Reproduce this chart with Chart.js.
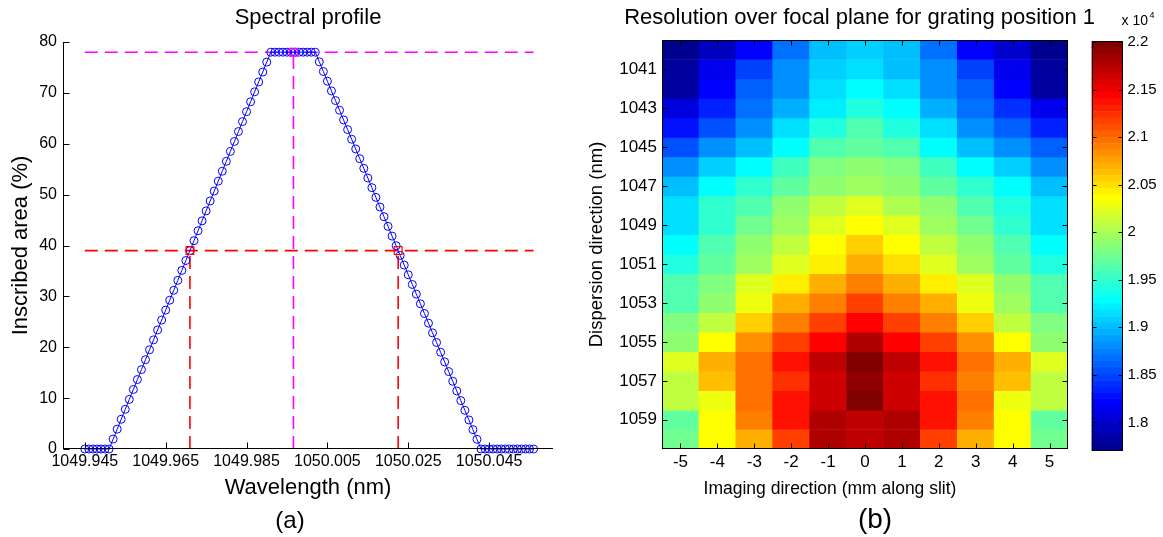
<!DOCTYPE html>
<html>
<head>
<meta charset="utf-8">
<script src="https://cdn.jsdelivr.net/npm/chart.js@4.4.1/dist/chart.umd.min.js"></script>
<style>
  html, body { margin: 0; padding: 0; background: #fff; }
  #wrap { position: relative; width: 1163px; height: 537px; overflow: hidden; background: #fff; }
  #wrap canvas { position: absolute; top: 0; }
</style>
</head>
<body>
<div id="wrap">
  <canvas id="profile" width="580" height="537" style="left:0px"></canvas>
  <canvas id="heat" width="540" height="537" style="left:560px"></canvas>
  <canvas id="cbar" width="590" height="537" style="left:580px"></canvas>
</div>
<script>
// ---------------- Panel (a): spectral profile ----------------
const wavelengths = [
  1049.945,1049.946,1049.947,1049.948,1049.949,1049.950,1049.951,1049.952,1049.953,1049.954,
  1049.955,1049.956,1049.957,1049.958,1049.959,1049.960,1049.961,1049.962,1049.963,1049.964,
  1049.965,1049.966,1049.967,1049.968,1049.969,1049.970,1049.971,1049.972,1049.973,1049.974,
  1049.975,1049.976,1049.977,1049.978,1049.979,1049.980,1049.981,1049.982,1049.983,1049.984,
  1049.985,1049.986,1049.987,1049.988,1049.989,1049.990,1049.991,1049.992,1049.993,1049.994,
  1049.995,1049.996,1049.997,1049.998,1049.999,1050.000,1050.001,1050.002,1050.003,1050.004,
  1050.005,1050.006,1050.007,1050.008,1050.009,1050.010,1050.011,1050.012,1050.013,1050.014,
  1050.015,1050.016,1050.017,1050.018,1050.019,1050.020,1050.021,1050.022,1050.023,1050.024,
  1050.025,1050.026,1050.027,1050.028,1050.029,1050.030,1050.031,1050.032,1050.033,1050.034,
  1050.035,1050.036,1050.037,1050.038,1050.039,1050.040,1050.041,1050.042,1050.043,1050.044,
  1050.045,1050.046,1050.047,1050.048,1050.049,1050.050,1050.051,1050.052,1050.053,1050.054,
  1050.055,1050.056
];
const inscribedArea = [
  0,0,0,0,0,0,0,1.95,3.9,5.85,
  7.8,9.75,11.7,13.65,15.6,17.55,19.5,21.45,23.4,25.35,
  27.3,29.25,31.2,33.15,35.1,37.05,39.0,40.95,42.9,44.85,
  46.8,48.75,50.7,52.65,54.6,56.55,58.5,60.45,62.4,64.35,
  66.3,68.25,70.2,72.15,74.1,76.05,78,78,78,78,
  78,78,78,78,78,78,78,78,76.1,74.2,
  72.29,70.39,68.49,66.59,64.68,62.78,60.88,58.98,57.07,55.17,
  53.27,51.37,49.46,47.56,45.66,43.76,41.85,39.95,38.05,36.15,
  34.24,32.34,30.44,28.54,26.63,24.73,22.83,20.93,19.02,17.12,
  15.22,13.32,11.41,9.51,7.61,5.71,3.8,1.9,0,0,
  0,0,0,0,0,0,0,0,0,0,
  0,0
];
const wavelengthTicks = [1049.945, 1049.965, 1049.985, 1050.005, 1050.025, 1050.045];
const wavelengthLimits = [1049.9396, 1050.0608];
const areaTicks = [0, 10, 20, 30, 40, 50, 60, 70, 80];
const peakArea = 78;
const halfArea = 39;
const centerWavelength = 1049.9966;
const halfWavelengths = [1049.971, 1050.0225];

// ---------------- Panel (b): resolution map ----------------
const imagingPositions = [-5, -4, -3, -2, -1, 0, 1, 2, 3, 4, 5];
const dispersionRows = [1040,1041,1042,1043,1044,1045,1046,1047,1048,1049,1050,
                        1051,1052,1053,1054,1055,1056,1057,1058,1059,1060];
const dispersionTicks = [1041, 1043, 1045, 1047, 1049, 1051, 1053, 1055, 1057, 1059];
const resolution = [
  [17740,17960,18220,18650,19040,19080,18990,18650,18220,18000,17700],
  [17830,18130,18480,18820,19080,19120,19040,18820,18480,18130,17790],
  [17830,18220,18610,18820,19120,19300,19120,18820,18610,18220,17830],
  [18090,18350,18650,18950,19210,19420,19250,18950,18650,18390,18130],
  [18300,18560,18820,19120,19420,19600,19420,19120,18820,18610,18350],
  [18560,18820,19040,19300,19640,19680,19640,19300,18990,18820,18610],
  [18820,19080,19300,19550,19810,19860,19810,19550,19300,19080,18820],
  [18990,19250,19510,19680,19900,19980,19900,19680,19510,19250,19040],
  [19120,19470,19640,19860,20070,20200,20030,19860,19640,19420,19120],
  [19170,19470,19730,19980,20200,20330,20200,19980,19730,19470,19170],
  [19300,19600,19860,20110,20330,20550,20370,20110,19860,19600,19300],
  [19420,19680,19980,20240,20460,20670,20500,20240,19980,19680,19420],
  [19600,19810,20200,20460,20720,20890,20720,20460,20200,19860,19600],
  [19640,19900,20290,20670,20930,21150,20930,20670,20290,19980,19640],
  [19810,20110,20550,20930,21190,21410,21190,20930,20550,20110,19810],
  [19900,20390,20820,21150,21470,21750,21450,21150,20820,20390,19900],
  [20200,20670,20980,21360,21690,22010,21690,21360,20980,20670,20200],
  [20070,20630,20980,21230,21620,21880,21620,21230,20930,20610,20070],
  [20110,20290,20980,21390,21620,22000,21620,21390,20980,20290,20110],
  [19680,20390,20930,21360,21750,21690,21750,21360,20930,20390,19680],
  [19730,20390,20670,21150,21750,21690,21750,21150,20670,20390,19730]
];
const colorLimits = [17700, 22010];
const colorbarTicks = [1.8, 1.85, 1.9, 1.95, 2, 2.05, 2.1, 2.15, 2.2];
const colorbarScale = 1e4;
const colorbarLevels = 64;

// ---------------- helpers ----------------
const FONT = "'Liberation Sans', Arial, Helvetica, sans-serif";
const BLACK = '#000000';

function jetMap(m) {
  const n = Math.ceil(m / 4);
  const u = [];
  for (let i = 1; i <= n; i++) u.push(i / n);
  for (let i = 0; i < n - 1; i++) u.push(1);
  for (let i = n; i >= 1; i--) u.push(i / n);
  const g0 = Math.ceil(n / 2) - (m % 4 === 1 ? 1 : 0);
  const J = Array.from({length: m}, () => [0, 0, 0]);
  u.forEach((val, k) => {
    const g = g0 + k + 1, r = g + n, b = g - n;
    if (r >= 1 && r <= m) J[r - 1][0] = val;
    if (g >= 1 && g <= m) J[g - 1][1] = val;
    if (b >= 1 && b <= m) J[b - 1][2] = val;
  });
  return J.map(([r, g, b]) => `rgb(${Math.round(r * 255)},${Math.round(g * 255)},${Math.round(b * 255)})`);
}
const JET = jetMap(colorbarLevels);
function colorOf(v) {
  let i = Math.floor((v - colorLimits[0]) / (colorLimits[1] - colorLimits[0]) * colorbarLevels);
  i = Math.max(0, Math.min(colorbarLevels - 1, i));
  return JET[i];
}

// invisible layout spacer (reserves room beside the plot area)
function spacer(position, width) {
  return {
    type: 'linear', axis: 'y', position, display: true,
    ticks: { display: false }, grid: { display: false, drawTicks: false },
    border: { display: false }, title: { display: false },
    afterFit: s => { s.width = width; }
  };
}

function makeFrame(cfg) {
  return {
    id: 'frame',
    afterDatasetsDraw(chart) {
      const {ctx, chartArea: a} = chart;
      const L = Math.round(a.left) + 0.5, R = Math.round(a.right) - 0.5;
      const T = Math.round(a.top) + 0.5, B = Math.round(a.bottom) - 0.5;
      ctx.save();
      ctx.strokeStyle = BLACK;
      ctx.lineWidth = 1;
      ctx.beginPath();
      for (const e of cfg.edges) {
        if (e === 'left')   { ctx.moveTo(L, T - 0.5); ctx.lineTo(L, B + 0.5); }
        if (e === 'right')  { ctx.moveTo(R, T - 0.5); ctx.lineTo(R, B + 0.5); }
        if (e === 'top')    { ctx.moveTo(L - 0.5, T); ctx.lineTo(R + 0.5, T); }
        if (e === 'bottom') { ctx.moveTo(L - 0.5, B); ctx.lineTo(R + 0.5, B); }
      }
      for (const t of cfg.ticks) {
        const sc = chart.scales[t.scale];
        sc.ticks.forEach((tk, i) => {
          const p = Math.round(sc.getPixelForTick(i)) + 0.5;
          for (const e of t.edges) {
            if (e === 'left')   { ctx.moveTo(L, p); ctx.lineTo(L + t.len, p); }
            if (e === 'right')  { ctx.moveTo(R, p); ctx.lineTo(R - t.len, p); }
            if (e === 'top')    { ctx.moveTo(p, T); ctx.lineTo(p, T + t.len); }
            if (e === 'bottom') { ctx.moveTo(p, B); ctx.lineTo(p, B - t.len); }
          }
        });
      }
      ctx.stroke();
      ctx.restore();
    }
  };
}

Chart.defaults.font.family = FONT;
Chart.defaults.color = BLACK;
Chart.defaults.animation = false;

const noGrid = { display: false, drawTicks: false, tickLength: 0 };

// ---------------- Chart (a) ----------------
const first = wavelengths[0], last = wavelengths[wavelengths.length - 1];
const dashed = (color, pts) => ({
  data: pts, showLine: true, borderColor: color, borderWidth: 1.6, borderDash: [13, 7],
  pointRadius: 0, fill: false, clip: false, xAxisID: 'x', yAxisID: 'y'
});
new Chart(document.getElementById('profile'), {
  type: 'scatter',
  data: {
    datasets: [
      { data: halfWavelengths.map(w => ({x: w, y: halfArea})), showLine: false, pointStyle: 'rect',
        pointRadius: 5.5, pointBorderWidth: 1.2, pointBorderColor: '#ff0000',
        pointBackgroundColor: 'rgba(0,0,0,0)', clip: false, xAxisID: 'x', yAxisID: 'y' },
      { data: [{x: centerWavelength, y: peakArea}], showLine: false, pointStyle: 'rect',
        pointRadius: 5.5, pointBorderWidth: 1.2, pointBorderColor: '#ff00ff',
        pointBackgroundColor: 'rgba(0,0,0,0)', clip: false, xAxisID: 'x', yAxisID: 'y' },
      { data: wavelengths.map((w, i) => ({x: w, y: inscribedArea[i]})), showLine: true,
        borderColor: '#0000ff', borderWidth: 1, pointStyle: 'circle', pointRadius: 4,
        pointBorderWidth: 1, pointBorderColor: '#0000ff', pointBackgroundColor: 'rgba(0,0,0,0)',
        clip: false, xAxisID: 'x', yAxisID: 'y' },
      dashed('#ff00ff', [{x: first, y: peakArea}, {x: last, y: peakArea}]),
      dashed('#ff00ff', [{x: centerWavelength, y: 0}, {x: centerWavelength, y: peakArea}]),
      dashed('#ff0000', [{x: first, y: halfArea}, {x: last, y: halfArea}]),
      dashed('#ff0000', [{x: halfWavelengths[0], y: 0}, {x: halfWavelengths[0], y: halfArea}]),
      dashed('#ff0000', [{x: halfWavelengths[1], y: 0}, {x: halfWavelengths[1], y: halfArea}])
    ]
  },
  options: {
    responsive: false,
    events: [],
    layout: { padding: 0 },
    scales: {
      x: {
        type: 'linear', min: wavelengthLimits[0], max: wavelengthLimits[1],
        afterBuildTicks: s => { s.ticks = wavelengthTicks.map(v => ({value: v})); },
        afterFit: s => { s.height = 53; },
        grid: noGrid, border: { display: false },
        ticks: { autoSkip: false, maxRotation: 0, padding: 3.4, font: { size: 16 },
                 callback: v => Number(v).toFixed(3) },
        title: { display: true, text: 'Wavelength (nm)', font: { size: 22 },
                 padding: { top: 0, bottom: 0.8 } }
      },
      y: {
        type: 'linear', min: 0, max: 80,
        afterBuildTicks: s => { s.ticks = areaTicks.map(v => ({value: v})); },
        afterFit: s => { s.width = 63; },
        grid: noGrid, border: { display: false },
        ticks: { padding: 6, font: { size: 16 } },
        title: { display: true, text: 'Inscribed area (%)', font: { size: 22 },
                 padding: { top: 7.3, bottom: 0 } }
      },
      pad: spacer('right', 27)
    },
    plugins: {
      legend: { display: false },
      tooltip: { enabled: false },
      title: { display: true, text: 'Spectral profile', fullSize: false,
               font: { size: 22, weight: 'normal' }, padding: { top: 4.8, bottom: 10.8 } },
      subtitle: { display: true, text: '(a)', position: 'bottom', fullSize: true,
                  font: { size: 24, weight: 'normal' }, padding: { top: 4.6, bottom: 1.6 } }
    }
  },
  plugins: [makeFrame({ edges: ['left', 'bottom'],
    ticks: [{scale: 'x', edges: ['bottom'], len: 6}, {scale: 'y', edges: ['left'], len: 6}] })]
});

// ---------------- Chart (b): heat map ----------------
new Chart(document.getElementById('heat'), {
  type: 'bar',
  data: {
    labels: imagingPositions.map(String),
    datasets: dispersionRows.map((row, r) => ({
      data: resolution[r].map(() => [row - 0.5, row + 0.5]),
      backgroundColor: resolution[r].map(colorOf),
      borderWidth: 0, grouped: false, barPercentage: 1, categoryPercentage: 1,
      xAxisID: 'x', yAxisID: 'y'
    }))
  },
  options: {
    responsive: false,
    events: [],
    layout: { padding: { left: 5, right: 5, top: 0, bottom: 0 } },
    scales: {
      x: {
        type: 'category', offset: true,
        afterFit: s => { s.height = 28; },
        grid: noGrid, border: { display: false },
        ticks: { autoSkip: false, maxRotation: 0, padding: 2.8, font: { size: 17 } }
      },
      y: {
        type: 'linear', reverse: true,
        min: dispersionRows[0] - 0.5, max: dispersionRows[dispersionRows.length - 1] + 0.5,
        afterBuildTicks: s => { s.ticks = dispersionTicks.map(v => ({value: v})); },
        afterFit: s => { s.width = 97; },
        grid: noGrid, border: { display: false },
        ticks: { padding: 5, font: { size: 17 }, callback: v => String(v) },
        title: { display: true, text: 'Dispersion direction (nm)', font: { size: 18.5 },
                 padding: { top: 20.9, bottom: 0 } }
      },
      pad: spacer('right', 27)
    },
    plugins: {
      legend: { display: false },
      tooltip: { enabled: false },
      title: { display: true, text: 'Resolution over focal plane for grating position 1',
               fullSize: true, align: 'end',
               font: { size: 22, weight: 'normal' }, padding: { top: 4.8, bottom: 8.8 } },
      subtitle: { display: true, text: 'Imaging direction (mm along slit)', position: 'bottom',
                  fullSize: true, font: { size: 17.5, weight: 'normal' },
                  padding: { top: 1.5, bottom: 37.5 } }
    }
  },
  plugins: [makeFrame({ edges: ['left', 'right', 'top', 'bottom'],
    ticks: [{scale: 'x', edges: ['top', 'bottom'], len: 5}, {scale: 'y', edges: ['left', 'right'], len: 5}] })]
});

// ---------------- Colour bar ----------------
const step = (colorLimits[1] - colorLimits[0]) / colorbarLevels;
const exponentLabel = {
  id: 'exponentLabel',
  afterDraw(chart) {
    const {ctx, chartArea: a} = chart;
    ctx.save();
    ctx.fillStyle = BLACK;
    ctx.textBaseline = 'alphabetic';
    ctx.textAlign = 'left';
    ctx.font = `14px ${FONT}`;
    const base = 'x 10';
    ctx.fillText(base, a.right - 1, a.top - 16);
    const w = ctx.measureText(base).width;
    ctx.font = `9px ${FONT}`;
    ctx.fillText(String(Math.log10(colorbarScale)), a.right + w + 0.5, a.top - 23);
    ctx.restore();
  }
};
new Chart(document.getElementById('cbar'), {
  type: 'bar',
  data: {
    labels: [''],
    datasets: JET.map((c, i) => ({
      data: [[colorLimits[0] + i * step, colorLimits[0] + (i + 1) * step]],
      backgroundColor: c, borderWidth: 0, grouped: false, barPercentage: 1, categoryPercentage: 1,
      xAxisID: 'x', yAxisID: 'y'
    }))
  },
  options: {
    responsive: false,
    events: [],
    layout: { padding: { left: 0, right: 0, top: 41, bottom: 0 } },
    scales: {
      x: { type: 'category', display: false, offset: true },
      y: {
        type: 'linear', position: 'right', min: colorLimits[0], max: colorLimits[1],
        afterBuildTicks: s => { s.ticks = colorbarTicks.map(v => ({value: v * colorbarScale})); },
        afterFit: s => { s.width = 47.5; },
        grid: noGrid, border: { display: false },
        ticks: { padding: 5, font: { size: 15 }, callback: (v, i) => String(colorbarTicks[i]) }
      },
      pad: spacer('left', 511.5)
    },
    plugins: {
      legend: { display: false },
      tooltip: { enabled: false },
      subtitle: { display: true, text: '(b)', position: 'bottom', fullSize: true,
                  font: { size: 28, weight: 'normal' }, padding: { top: 52.4, bottom: 0 } }
    }
  },
  plugins: [exponentLabel, makeFrame({ edges: ['left', 'right', 'top', 'bottom'],
    ticks: [{scale: 'y', edges: ['left', 'right'], len: 4}] })]
});
</script>
</body>
</html>
